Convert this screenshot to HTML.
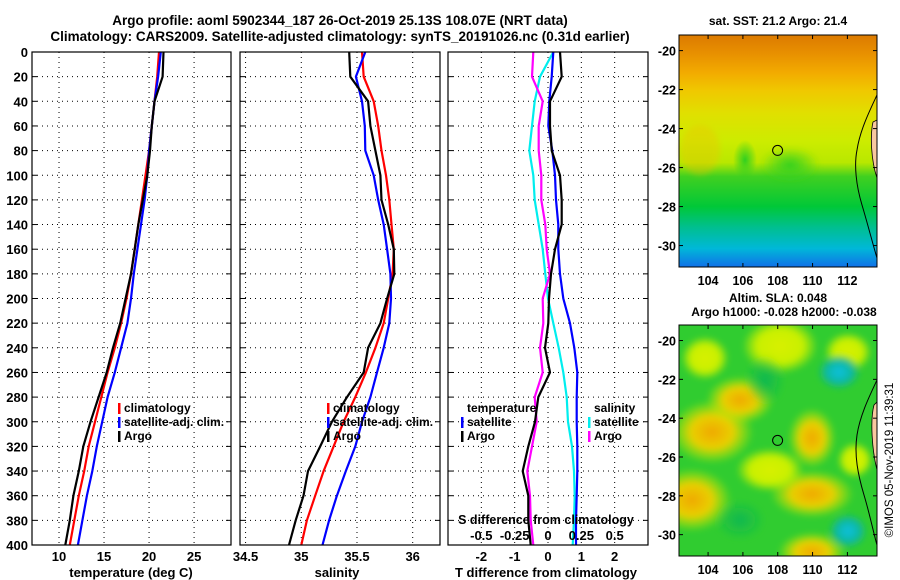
<!DOCTYPE html>
<html><head><meta charset="utf-8">
<style>
html,body{margin:0;padding:0;background:#fff;}
svg{display:block;font-family:"Liberation Sans",Arial,sans-serif;font-weight:bold;}
text{fill:#000;}
</style></head>
<body>
<svg id="c" width="900" height="580" viewBox="0 0 900 580" xmlns="http://www.w3.org/2000/svg">
<defs>
<linearGradient id="sstGrad" x1="0" y1="0" x2="0" y2="1">
<stop offset="0" stop-color="#dc7a00"/><stop offset="0.08" stop-color="#e89000"/>
<stop offset="0.16" stop-color="#f2aa00"/><stop offset="0.24" stop-color="#f0c800"/>
<stop offset="0.34" stop-color="#e0e000"/><stop offset="0.46" stop-color="#ccec00"/>
<stop offset="0.55" stop-color="#b8e800"/><stop offset="0.61" stop-color="#40d020"/>
<stop offset="0.74" stop-color="#00c838"/><stop offset="0.83" stop-color="#00bf90"/>
<stop offset="0.92" stop-color="#00b8d8"/><stop offset="1" stop-color="#1070e8"/>
</linearGradient>
<radialGradient id="blobO"><stop offset="0" stop-color="#f0a800"/><stop offset="0.5" stop-color="#e8d000"/><stop offset="1" stop-color="#c8f000" stop-opacity="0"/></radialGradient>
<radialGradient id="blobY"><stop offset="0" stop-color="#d8f000"/><stop offset="0.6" stop-color="#c8f000"/><stop offset="1" stop-color="#c8f000" stop-opacity="0"/></radialGradient>
<radialGradient id="blobC"><stop offset="0" stop-color="#10c0e0"/><stop offset="0.6" stop-color="#10b8a0"/><stop offset="1" stop-color="#10b880" stop-opacity="0"/></radialGradient>
<radialGradient id="blobD"><stop offset="0" stop-color="#10b850"/><stop offset="1" stop-color="#10b850" stop-opacity="0"/></radialGradient>
<radialGradient id="blobG"><stop offset="0" stop-color="#30d020"/><stop offset="1" stop-color="#30d020" stop-opacity="0"/></radialGradient>
<filter id="soft"><feGaussianBlur stdDeviation="3"/></filter>
</defs>

<text x="340" y="25" text-anchor="middle" font-size="13.5">Argo profile: aoml 5902344_187 26-Oct-2019 25.13S 108.07E (NRT data)</text>
<text x="340" y="41" text-anchor="middle" font-size="13.5">Climatology: CARS2009. Satellite-adjusted climatology: synTS_20191026.nc (0.31d earlier)</text>

<g id="panels"></g>

<!-- SST map -->
<g>
<text x="778" y="25" text-anchor="middle" font-size="12">sat. SST: 21.2 Argo: 21.4</text>
<rect x="679" y="35" width="198" height="232" fill="url(#sstGrad)"/>
<ellipse cx="790" cy="165" rx="30" ry="18" fill="url(#blobG)" filter="url(#soft)"/>
<ellipse cx="745" cy="160" rx="12" ry="20" fill="url(#blobG)"/>
<ellipse cx="700" cy="150" rx="20" ry="25" fill="#f0c000" opacity="0.35" filter="url(#soft)"/>
<path d="M877,95 C870,110 860,130 857,150 C854,165 856,185 862,205 C868,225 873,245 877,258" fill="none" stroke="#000" stroke-width="1"/>
<path d="M873,122 C870,135 871,160 877,178 L877,120 Z" fill="#f8c8a0" stroke="#000" stroke-width="0.8"/>
<circle cx="777.6" cy="150.4" r="5" fill="none" stroke="#000" stroke-width="1"/>
<rect x="679" y="35" width="198" height="232" fill="none" stroke="#000" stroke-width="1"/>
</g>

<!-- SLA map -->
<g>
<text x="778" y="302" text-anchor="middle" font-size="12">Altim. SLA: 0.048</text>
<text x="784" y="316" text-anchor="middle" font-size="12">Argo h1000: -0.028 h2000: -0.038</text>
<svg x="679" y="325" width="198" height="231" viewBox="679 325 198 231" overflow="hidden">
<rect x="679" y="325" width="198" height="231" fill="#30cc30"/>
<g filter="url(#soft)">
<ellipse cx="712" cy="432" rx="42" ry="32" fill="url(#blobO)"/>
<ellipse cx="740" cy="400" rx="34" ry="24" fill="url(#blobO)"/>
<ellipse cx="812" cy="494" rx="42" ry="24" fill="url(#blobO)"/>
<ellipse cx="812" cy="438" rx="24" ry="30" fill="url(#blobO)"/>
<ellipse cx="692" cy="500" rx="40" ry="32" fill="url(#blobO)"/>
<ellipse cx="812" cy="552" rx="34" ry="20" fill="url(#blobO)"/>
<ellipse cx="780" cy="346" rx="38" ry="28" fill="url(#blobY)"/>
<ellipse cx="848" cy="352" rx="24" ry="20" fill="url(#blobY)"/>
<ellipse cx="770" cy="470" rx="34" ry="22" fill="url(#blobY)"/>
<ellipse cx="705" cy="358" rx="24" ry="22" fill="url(#blobY)"/>
<ellipse cx="855" cy="460" rx="18" ry="18" fill="url(#blobY)"/>
<ellipse cx="848" cy="531" rx="20" ry="18" fill="url(#blobC)"/>
<ellipse cx="839" cy="372" rx="22" ry="18" fill="url(#blobC)"/>
<ellipse cx="740" cy="520" rx="25" ry="20" fill="url(#blobD)"/>
<ellipse cx="765" cy="380" rx="20" ry="25" fill="url(#blobD)"/>
</g>
<path d="M877,380 C870,395 860,415 857,435 C854,455 858,475 864,495 C870,515 874,535 877,545" fill="none" stroke="#000" stroke-width="1"/>
<path d="M874,405 C870,420 872,450 877,470 L877,402 Z" fill="#f8c8a0" stroke="#000" stroke-width="0.8"/>
</svg>
<circle cx="777.6" cy="440.4" r="5" fill="none" stroke="#000" stroke-width="1"/>
<rect x="679" y="325" width="198" height="231" fill="none" stroke="#000" stroke-width="1"/>
</g>
<g id="maplabels"></g>
<text transform="translate(893,460) rotate(-90)" text-anchor="middle" font-size="11.5" font-weight="normal">©IMOS 05-Nov-2019 11:39:31</text>
</svg>

<script>
// ---- data ----
const depths = [0,20,40,60,80,100,120,140,160,180,200,220,240,260,280,300,320,340,360,380,400];
const tempClim = [21.1,20.9,20.6,20.3,20.0,19.6,19.2,18.8,18.4,18.0,17.5,16.9,16.2,15.4,14.7,14.0,13.3,12.8,12.2,11.7,11.2];
const tempSat  = [21.3,21.0,20.6,20.3,20.0,19.8,19.5,19.1,18.7,18.3,18.0,17.6,16.9,16.2,15.4,14.8,14.2,13.7,13.1,12.6,12.1];
const tempArgo = [21.6,21.5,20.6,20.3,20.1,19.8,19.3,18.8,18.4,18.0,17.4,16.8,16.0,15.3,14.4,13.5,12.7,12.2,11.6,11.2,10.7];
const salClim = [35.545,35.56,35.65,35.69,35.72,35.76,35.79,35.81,35.83,35.82,35.78,35.74,35.665,35.58,35.485,35.38,35.29,35.20,35.125,35.05,35.0];
const salSat  = [35.575,35.49,35.545,35.57,35.575,35.65,35.69,35.74,35.77,35.80,35.805,35.79,35.74,35.68,35.62,35.545,35.485,35.40,35.32,35.25,35.19];
const salArgo = [35.43,35.44,35.60,35.62,35.665,35.71,35.72,35.78,35.83,35.835,35.77,35.71,35.60,35.56,35.41,35.275,35.17,35.06,35.02,34.95,34.89];
const tDiffSat  = [0.16,0.11,0.04,0.01,0.13,0.21,0.24,0.31,0.31,0.36,0.46,0.66,0.79,0.88,0.86,0.86,0.88,0.88,0.86,0.84,0.84];
const tDiffArgo = [0.36,0.41,0.06,0.06,0.11,0.36,0.41,0.41,0.21,0.09,0.03,0.01,-0.09,0.06,-0.29,-0.39,-0.59,-0.76,-0.59,-0.59,-0.52];
const sDiffSat  = [0.04,-0.06,-0.10,-0.12,-0.14,-0.11,-0.10,-0.07,-0.04,-0.02,0.00,0.04,0.08,0.115,0.14,0.15,0.18,0.195,0.20,0.195,0.185];
const sDiffArgo = [-0.11,-0.12,-0.04,-0.07,-0.07,-0.05,-0.05,-0.02,-0.01,0.015,-0.04,-0.035,-0.06,-0.04,-0.10,-0.085,-0.12,-0.155,-0.135,-0.13,-0.11];
const depthTicks = [0,20,40,60,80,100,120,140,160,180,200,220,240,260,280,300,320,340,360,380,400];
const tempTicks = [10,15,20,25];
const salTicks = [34.5,35,35.5,36];
const tDiffTicks = [-2,-1,0,1,2];
const sDiffTicks = [-0.5,-0.25,0,0.25,0.5];
const sDiffTickLabels = ["-0.5","-0.25","0","0.25","0.5"];
const lonTicks = [104,106,108,110,112];
const latTicks = [-20,-22,-24,-26,-28,-30];

// ---- helpers ----
const NS = "http://www.w3.org/2000/svg";
const root = document.getElementById('panels');
function el(tag, attrs, parent){const e=document.createElementNS(NS,tag);for(const k in attrs)e.setAttribute(k,attrs[k]);(parent||root).appendChild(e);return e;}
function txt(x,y,s,size,anchor,parent){const t=el('text',{x:x,y:y,'font-size':size,'text-anchor':anchor||'middle'},parent);t.textContent=s;return t;}
const Y0=52, Y1=545;
function yD(d){return Y0+(d/400)*(Y1-Y0);}
function linScale(d0,d1,r0,r1){return v=>r0+(v-d0)/(d1-d0)*(r1-r0);}

const panels = [
 {name:'temperature-panel', x0:32, x1:231, dom:[7,29.1]},
 {name:'salinity-panel', x0:240, x1:440, dom:[34.45,36.245]},
 {name:'difference-panel', x0:448, x1:648, dom:[-3,3]}
];
panels.forEach(p=>{p.sx=linScale(p.dom[0],p.dom[1],p.x0,p.x1);});
const sScaleDiff = linScale(-0.75,0.75,448,648);

function grid(p, xticks, scale){
  const g=el('g',{});
  
  
  depthTicks.forEach(d=>{
    if(d===0||d===400)return;
    el('line',{x1:p.x0,x2:p.x1,y1:yD(d),y2:yD(d),stroke:'#000','stroke-width':1,'stroke-dasharray':'1,4'},g);
    el('line',{x1:p.x0,x2:p.x0+5,y1:yD(d),y2:yD(d),stroke:'#000','stroke-width':1},g);
    el('line',{x1:p.x1-5,x2:p.x1,y1:yD(d),y2:yD(d),stroke:'#000','stroke-width':1},g);
  });
  xticks.forEach(v=>{
    const x=scale(v);
    el('line',{x1:x,x2:x,y1:Y0,y2:Y1,stroke:'#000','stroke-width':1,'stroke-dasharray':'1,4'},g);
  });
}
function frame(p){
  const r=el('rect',{x:p.x0,y:Y0,width:p.x1-p.x0,height:Y1-Y0,fill:'none',stroke:'#000','stroke-width':1.2});
  
  
}
function line(vals, scale, color, name){
  const pts=vals.map((v,i)=>scale(v).toFixed(1)+','+yD(depths[i]).toFixed(1)).join(' ');
  const l=el('polyline',{points:pts,fill:'none',stroke:color,'stroke-width':2.2,'stroke-linejoin':'round'});
  
  
}
function legendEntry(x,y,color,label,name){
  const g=el('g',{});
  
  
  el('rect',{x:x,y:y-9,width:2.5,height:11,fill:color},g);
  txt(x+6,y,label,12,'start',g);
}

// y tick labels
depthTicks.forEach(d=>{
  const t=txt(28,yD(d)+5,String(d),13,'end');
  
  
});

// panel 1
const p1=panels[0];
grid(p1,tempTicks,p1.sx);
line(tempClim,p1.sx,'#ff0000','temp-climatology-line');
line(tempSat,p1.sx,'#0000ff','temp-satellite-line');
line(tempArgo,p1.sx,'#000000','temp-argo-line');
frame(p1);
tempTicks.forEach(v=>{const t=txt(p1.sx(v),561,String(v),13);});
{const t=txt(131,577,'temperature (deg C)',13);}
legendEntry(118,412,'#ff0000','climatology','legend-climatology');
legendEntry(118,426,'#0000ff','satellite-adj. clim.','legend-satellite-adj');
legendEntry(118,440,'#000000','Argo','legend-argo');

// panel 2
const p2=panels[1];
grid(p2,salTicks,p2.sx);
line(salClim,p2.sx,'#ff0000','sal-climatology-line');
line(salSat,p2.sx,'#0000ff','sal-satellite-line');
line(salArgo,p2.sx,'#000000','sal-argo-line');
frame(p2);
salTicks.forEach(v=>{const t=txt(p2.sx(v),561,String(v),13);});
{const t=txt(337,577,'salinity',13);}
legendEntry(327,412,'#ff0000','climatology','legend-sal-climatology');
legendEntry(327,426,'#0000ff','satellite-adj. clim.','legend-sal-satellite-adj');
legendEntry(327,440,'#000000','Argo','legend-sal-argo');

// panel 3
const p3=panels[2];
grid(p3,tDiffTicks,p3.sx);
line(sDiffSat,sScaleDiff,'#00eeee','sdiff-satellite-line');
line(sDiffArgo,sScaleDiff,'#ff00ff','sdiff-argo-line');
line(tDiffSat,p3.sx,'#0000ff','tdiff-satellite-line');
line(tDiffArgo,p3.sx,'#000000','tdiff-argo-line');
frame(p3);
tDiffTicks.forEach(v=>{const t=txt(p3.sx(v),561,String(v),13);});
sDiffTicks.forEach((v,i)=>{const t=txt(sScaleDiff(v),540,sDiffTickLabels[i],13);});
{const t=txt(546,524,'S difference from climatology',12.5);}
{const t=txt(546,577,'T difference from climatology',13);}
{const t=txt(467,412,'temperature',12,'start');}
legendEntry(461,426,'#0000ff','satellite','legend-tdiff-satellite');
legendEntry(461,440,'#000000','Argo','legend-tdiff-argo');
{const t=txt(594,412,'salinity',12,'start');}
legendEntry(588,426,'#00eeee','satellite','legend-sdiff-satellite');
legendEntry(588,440,'#ff00ff','Argo','legend-sdiff-argo');

// map axes
const ml=document.getElementById('maplabels');
const lonX=linScale(102.33,113.7,679,877);
function mapAxes(top,bottom,labelY){
  const latY=linScale(-19.2,-31.1,top,bottom);
  lonTicks.forEach(v=>{
    const x=lonX(v);
    el('line',{x1:x,x2:x,y1:top,y2:top+4,stroke:'#000'},ml);
    el('line',{x1:x,x2:x,y1:bottom-4,y2:bottom,stroke:'#000'},ml);
    const t=txt(x,labelY,String(v),12.5,'middle',ml);
    
    
  });
  latTicks.forEach(v=>{
    const y=latY(v);
    el('line',{x1:679,x2:683,y1:y,y2:y,stroke:'#000'},ml);
    el('line',{x1:873,x2:877,y1:y,y2:y,stroke:'#000'},ml);
    const t=txt(676,y+5,String(v),12.5,'end',ml);
    
    
  });
}
mapAxes(35,267,285);
mapAxes(325,556,574);
</script>
</body></html>
